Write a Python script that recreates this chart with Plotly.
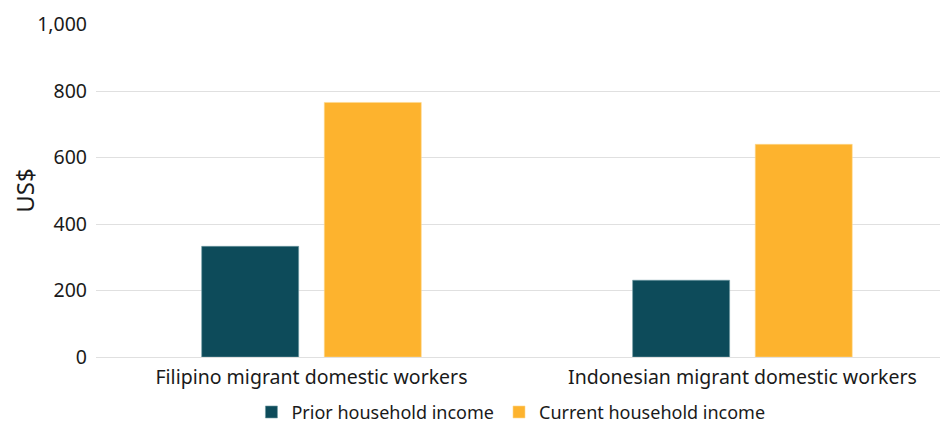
import plotly.graph_objects as go

categories = ["Filipino migrant domestic workers", "Indonesian migrant domestic workers"]
prior_income = [333, 231]
current_income = [766, 640]
series_names = ["Prior household income", "Current household income"]
tick_vals = [0, 200, 400, 600, 800, 1000]
tick_text = ["0", "200", "400", "600", "800", "1,000"]

FONT = "Noto Sans, Lato, sans-serif"

fig = go.Figure()
fig.add_trace(go.Bar(
    x=categories, y=prior_income, name=series_names[0],
    marker=dict(color="#0D4B5A", line=dict(color="#6f9aa3", width=0.6)),
))
fig.add_trace(go.Bar(
    x=categories, y=current_income, name=series_names[1],
    marker=dict(color="#FDB32E", line=dict(color="#fed98f", width=0.6)),
))

# page body has an 8px margin, so the figure is 940x415 placed at (8, 8)
fig.update_layout(
    width=940, height=415,
    margin=dict(l=88, r=0, t=16, b=66, autoexpand=False),
    paper_bgcolor="white", plot_bgcolor="white",
    barmode="group", bargap=0.431, bargroupgap=0.209,
    font=dict(family=FONT, size=19, color="#1a1a1a"),
    showlegend=True,
    legend=dict(orientation="h", x=0.487, xanchor="center", y=-0.166, yanchor="middle",
                font=dict(size=18), itemwidth=30, traceorder="normal"),
    xaxis=dict(range=[-0.5, 1.477], showgrid=False, showline=False, ticks="",
               automargin=False, ticklabelstandoff=6,
               tickfont=dict(size=19.5)),
    yaxis=dict(range=[0, 1002], tickvals=tick_vals, ticktext=tick_text,
               showgrid=True, gridcolor="#e0e0e0", gridwidth=1,
               zeroline=True, zerolinecolor="#e0e0e0", zerolinewidth=1,
               showline=False, ticks="", ticklabelstandoff=8, automargin=False,
               title=dict(text="US$", font=dict(size=24), standoff=12),
               tickfont=dict(size=19.5)),
)

fig.write_html("out.html")
